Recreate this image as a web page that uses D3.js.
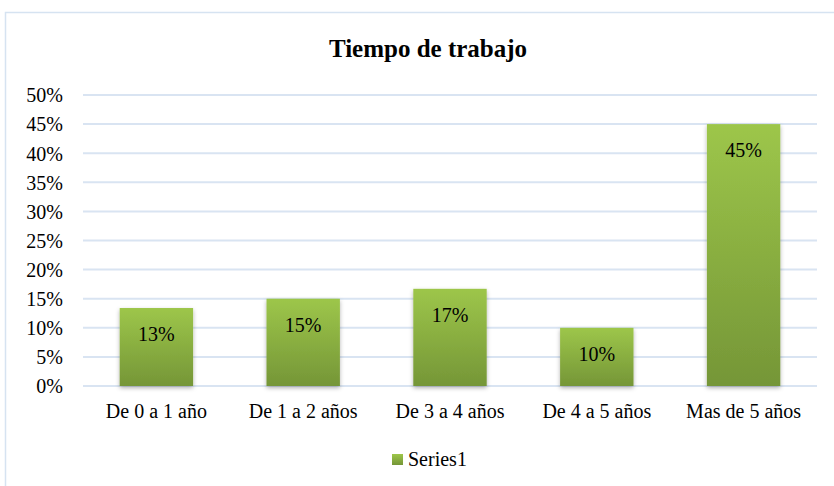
<!DOCTYPE html>
<html>
<head>
<meta charset="utf-8">
<script src="https://cdn.jsdelivr.net/npm/d3@7"></script>
<style>
  body { margin: 0; background: #fff; }
  svg text { font-family: "Liberation Serif", "Times New Roman", serif; fill: #000; }
</style>
</head>
<body>
<div id="chart"></div>
<script>
const categories = ["De 0 a 1 año", "De 1 a 2 años", "De 3 a 4 años", "De 4 a 5 años", "Mas de 5 años"]
const values = [0.134, 0.15, 0.167, 0.10, 0.45]
const valueLabels = ["13%", "15%", "17%", "10%", "45%"]
const yTicks = [0, 0.05, 0.10, 0.15, 0.20, 0.25, 0.30, 0.35, 0.40, 0.45, 0.50]
const seriesName = "Series1"
const title = "Tiempo de trabajo"

const w = 834, h = 486
// plot area
const margin = { left: 83, right: 17, top: 95, bottom: 100 }
const serif = "'Liberation Serif', 'Times New Roman', serif"

const svg = d3.select("#chart").append("svg")
  .attr("width", w)
  .attr("height", h)

const defs = svg.append("defs")
const grad = defs.append("linearGradient")
  .attr("id", "barGrad")
  .attr("x1", 0).attr("y1", 0).attr("x2", 0).attr("y2", 1)
grad.append("stop").attr("offset", "0%").attr("stop-color", "#9dc64a")
grad.append("stop").attr("offset", "100%").attr("stop-color", "#759637")

const shadow = defs.append("filter").attr("id", "shadow")
  .attr("x", "-20%").attr("y", "-10%").attr("width", "140%").attr("height", "130%")
shadow.append("feDropShadow")
  .attr("dx", 0).attr("dy", 2).attr("stdDeviation", 2)
  .attr("flood-color", "#000").attr("flood-opacity", 0.3)

// chart frame
svg.append("rect")
  .attr("x", 5.5).attr("y", 12.5)
  .attr("width", w + 10).attr("height", h + 10)
  .attr("fill", "#fff")
  .attr("stroke", "#d6e3f1")
  .attr("stroke-width", 1.5)

const x = d3.scaleBand()
  .domain(categories)
  .range([margin.left, w - margin.right])
  .paddingInner(0.5)
  .paddingOuter(0.25)

const y = d3.scaleLinear()
  .domain([0, 0.5])
  .range([h - margin.bottom, margin.top])

// gridlines
svg.append("g")
  .selectAll("line")
  .data(yTicks)
  .enter().append("line")
  .attr("x1", margin.left)
  .attr("x2", w - margin.right)
  .attr("y1", d => y(d))
  .attr("y2", d => y(d))
  .attr("stroke", "#d9e4f2")
  .attr("stroke-width", 2)

// y axis
const yAxis = d3.axisLeft(y)
  .tickValues(yTicks)
  .tickFormat(d3.format(".0%"))
  .tickSize(0)
  .tickPadding(0)

const yG = svg.append("g")
  .attr("transform", "translate(" + 63 + ",0)")
  .call(yAxis)
yG.select(".domain").remove()
yG.attr("font-family", null).attr("font-size", null)
yG.selectAll("text")
  .style("font-family", serif)
  .style("font-size", "20px")
  .attr("dy", "0.34em")

// x axis
const xAxis = d3.axisBottom(x).tickSize(0).tickPadding(0)
const xG = svg.append("g")
  .attr("transform", "translate(0," + (h - margin.bottom) + ")")
  .call(xAxis)
xG.select(".domain").remove()
xG.attr("font-family", null).attr("font-size", null)
xG.selectAll("text")
  .style("font-family", serif)
  .style("font-size", "20px")
  .attr("y", 32)
  .attr("dy", 0)

// bars
svg.append("g")
  .selectAll("rect")
  .data(values)
  .enter().append("rect")
  .attr("x", (d, i) => x(categories[i]))
  .attr("y", d => y(d))
  .attr("width", x.bandwidth())
  .attr("height", d => y(0) - y(d))
  .attr("fill", "url(#barGrad)")
  .attr("filter", "url(#shadow)")

// data labels
svg.append("g")
  .selectAll("text")
  .data(values)
  .enter().append("text")
  .attr("x", (d, i) => x(categories[i]) + x.bandwidth() / 2)
  .attr("y", d => y(d) + 33)
  .attr("text-anchor", "middle")
  .style("font-size", "20px")
  .text((d, i) => valueLabels[i])

// title
svg.append("text")
  .attr("x", 428)
  .attr("y", 57)
  .attr("text-anchor", "middle")
  .style("font-size", "25px")
  .attr("font-weight", "bold")
  .text(title)

// legend
const legend = svg.append("g").attr("transform", "translate(392,454)")
legend.append("rect")
  .attr("width", 11).attr("height", 11)
  .attr("fill", "url(#barGrad)")
legend.append("text")
  .attr("x", 16)
  .attr("y", 12)
  .style("font-size", "20px")
  .text(seriesName)
</script>
</body>
</html>
